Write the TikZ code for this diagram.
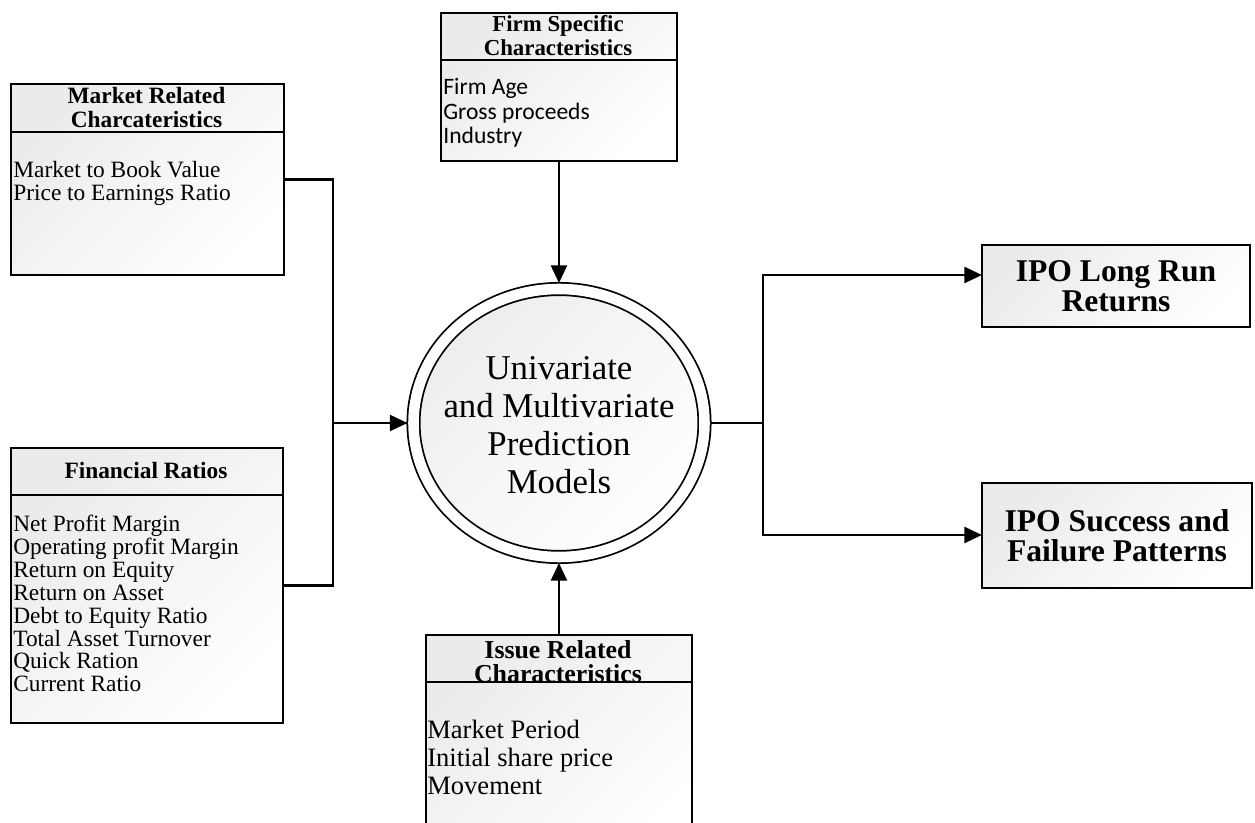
\documentclass[tikz,border=0pt]{standalone}
\usepackage{fontspec}
\setmainfont{Liberation Serif}
\newfontfamily\calfont{Carlito}
\usetikzlibrary{shapes.geometric,arrows.meta,positioning,calc}

\begin{document}
\begin{tikzpicture}[
    box/.style={draw, line width=1.1pt, top color=black!8, bottom color=white, shading angle=45, inner sep=0pt},
    head/.style={font=\bfseries\fontsize{13.3}{13.6}\selectfont, align=center, inner sep=0pt},
    items/.style={font=\fontsize{13.3}{12.8}\selectfont, align=left, anchor=north west, inner sep=0pt},
    link/.style={line width=1.6pt},
    flow/.style={line width=1.6pt, -{Triangle[length=10pt,width=9pt]}},
]
    \useasboundingbox (0,0) rectangle (25.1,-16.46);
    \clip (0,0) rectangle (25.1,-16.46);

    % Market related box
    \node[box, minimum width=5.46cm, minimum height=3.82cm, anchor=north west] (mkt) at (0.2,-1.66) {};
    \draw[line width=1.1pt] ([yshift=-0.98cm]mkt.north west) -- ([yshift=-0.98cm]mkt.north east);
    \node[head] (mkthead) at (2.93,-2.15) {Market Related\\Charcateristics};
    \node[items] (mktitems) at (0.26,-3.22) {Market to Book Value\\Price to Earnings Ratio};

    % Firm specific box
    \node[box, minimum width=4.72cm, minimum height=2.96cm, anchor=north west] (firm) at (8.8,-0.24) {};
    \draw[line width=1.1pt] ([yshift=-0.96cm]firm.north west) -- ([yshift=-0.96cm]firm.north east);
    \node[head, font=\bfseries\fontsize{13}{13.6}\selectfont] (firmhead) at (11.16,-0.72) {Firm Specific\\Characteristics};
    \node[items, font=\calfont\fontsize{13.4}{14}\selectfont] (firmitems) at (8.86,-1.56) {Firm Age\\Gross proceeds\\Industry};

    % Financial ratios box
    \node[box, minimum width=5.44cm, minimum height=5.5cm, anchor=north west] (fin) at (0.2,-8.94) {};
    \draw[line width=1.1pt] ([yshift=-0.96cm]fin.north west) -- ([yshift=-0.96cm]fin.north east);
    \node[head] (finhead) at (2.92,-9.42) {Financial Ratios};
    \node[items, font=\fontsize{13.3}{13}\selectfont] (finitems) at (0.26,-10.3)
        {Net Profit Margin\\Operating profit Margin\\Return on Equity\\Return on Asset\\Debt to Equity Ratio\\Total Asset Turnover\\Quick Ration\\Current Ratio};

    % Issue related box
    \node[box, minimum width=5.32cm, minimum height=4.4cm, anchor=north west] (issue) at (8.5,-12.68) {};
    \draw[line width=1.1pt] ([yshift=-0.96cm]issue.north west) -- ([yshift=-0.96cm]issue.north east);
    \node[head, font=\bfseries\fontsize{14.7}{13.6}\selectfont] (issuehead) at (11.16,-13.24) {Issue Related\\Characteristics};
    \node[items, font=\fontsize{15.1}{16}\selectfont] (issueitems) at (8.54,-14.4) {Market Period\\Initial share price\\Movement};

    % Prediction models
    \node[ellipse, draw, line width=1pt, double, double distance=6pt, top color=black!7, bottom color=white, shading angle=45,
          inner sep=0pt, minimum width=5.82cm, minimum height=5.36cm, outer sep=0.12cm] (circ) at (11.18,-8.46) {};
    \node[align=center, inner sep=0pt, font=\fontsize{19.8}{21.5}\selectfont] (circtext) at (11.18,-8.5)
        {Univariate\\and Multivariate\\Prediction\\Models};

    % Outcomes
    \node[box, line width=1.2pt, minimum width=5.36cm, minimum height=1.64cm, align=center,
          font=\bfseries\fontsize{18}{17}\selectfont] (ret) at (22.32,-5.72) {IPO Long Run\\Returns};
    \node[box, line width=1.2pt, minimum width=5.4cm, minimum height=2.1cm, align=center,
          font=\bfseries\fontsize{18}{17}\selectfont] (pat) at (22.34,-10.71) {IPO Success and\\Failure Patterns};

    % Connectors
    \coordinate (jl) at (6.66,-8.46);
    \coordinate (jr) at (15.26,-8.46);
    \coordinate (rt) at (19.64,-5.5);
    \coordinate (pt) at (19.64,-10.7);

    \draw[link] (mkt.east) -| (jl);
    \draw[link] (fin.east) -| (jl);
    \draw[flow] (jl) -- (circ.west);
    \draw[flow] (firm.south) -- (firm.south |- circ.north);
    \draw[flow] (issue.north) -- (issue.north |- circ.south);
    \draw[link] (circ.east) -- (jr);
    \draw[flow] (jr) |- (rt);
    \draw[flow] (jr) |- (pt);
\end{tikzpicture}
\end{document}
